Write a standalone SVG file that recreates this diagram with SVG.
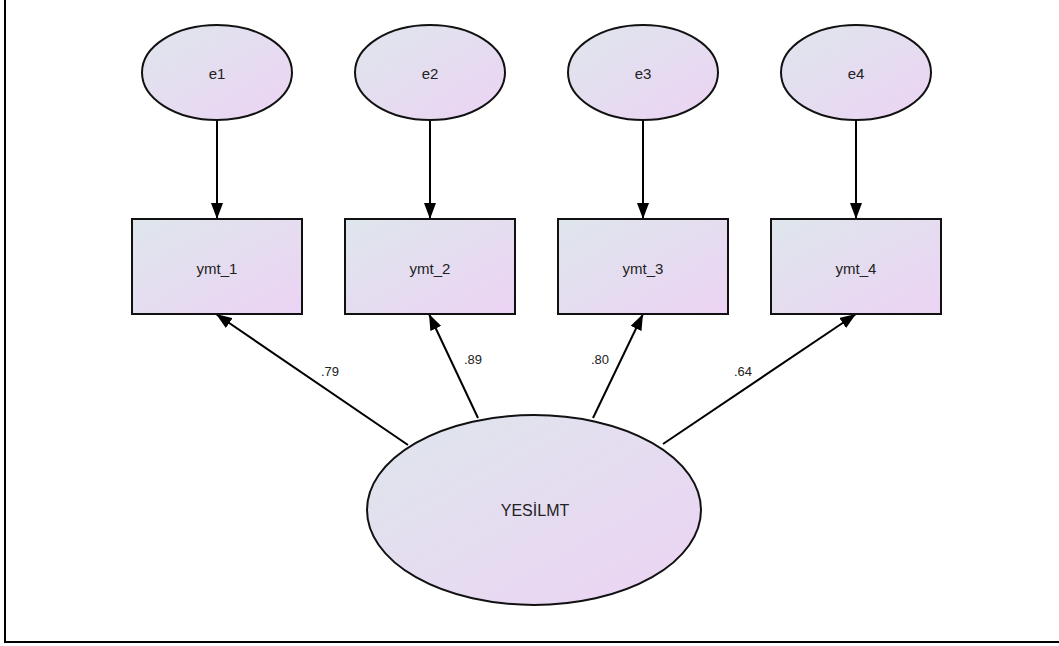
<svg xmlns="http://www.w3.org/2000/svg" width="1059" height="646" viewBox="0 0 1059 646">
<defs>
<linearGradient id="fill" x1="0" y1="0" x2="1" y2="1">
<stop offset="0" stop-color="#dee6ec"/>
<stop offset="1" stop-color="#ecd3f4"/>
</linearGradient>
<marker id="arr" viewBox="0 0 16 12" refX="16" refY="6" markerWidth="16" markerHeight="12" markerUnits="userSpaceOnUse" orient="auto">
<path d="M0,0 L16,6 L0,12 z" fill="#000"/>
</marker>
<style>
.shape{fill:url(#fill);stroke:#111;stroke-width:2}
.lbl{font-family:"Liberation Sans",Arial,sans-serif;font-size:15px;fill:#222;text-anchor:middle;dominant-baseline:central}
.w{font-family:"Liberation Sans",Arial,sans-serif;font-size:13px;fill:#222;text-anchor:middle;dominant-baseline:central}
.c{stroke:#000;stroke-width:2;fill:none;marker-end:url(#arr)}
</style>
</defs>
<rect width="1059" height="646" fill="#fff"/>
<path d="M5,0 V642 H1059" fill="none" stroke="#000" stroke-width="2"/>
<g id="connectors">
<line class="c" x1="217" y1="120" x2="217" y2="219"/>
<line class="c" x1="430" y1="120" x2="430" y2="219"/>
<line class="c" x1="643" y1="120" x2="643" y2="219"/>
<line class="c" x1="856" y1="120" x2="856" y2="219"/>
<line class="c" x1="408" y1="445" x2="216" y2="314"/>
<line class="c" x1="478" y1="418" x2="429" y2="314"/>
<line class="c" x1="593" y1="418" x2="643" y2="314"/>
<line class="c" x1="663" y1="444" x2="856" y2="314"/>
<text class="w" x="330" y="371">.79</text>
<text class="w" x="473" y="359">.89</text>
<text class="w" x="600" y="359">.80</text>
<text class="w" x="743" y="371">.64</text>
</g>
<g id="e1"><ellipse class="shape" cx="217" cy="72.5" rx="75" ry="47.5"/><text class="lbl" x="217" y="73">e1</text></g>
<g id="e2"><ellipse class="shape" cx="430" cy="72.5" rx="75" ry="47.5"/><text class="lbl" x="430" y="73">e2</text></g>
<g id="e3"><ellipse class="shape" cx="643" cy="72.5" rx="75" ry="47.5"/><text class="lbl" x="643" y="73">e3</text></g>
<g id="e4"><ellipse class="shape" cx="856" cy="72.5" rx="75" ry="47.5"/><text class="lbl" x="856" y="73">e4</text></g>
<g id="ymt_1"><rect class="shape" x="132" y="219" width="170" height="95"/><text class="lbl" x="217" y="268">ymt_1</text></g>
<g id="ymt_2"><rect class="shape" x="345" y="219" width="170" height="95"/><text class="lbl" x="430" y="268">ymt_2</text></g>
<g id="ymt_3"><rect class="shape" x="558" y="219" width="170" height="95"/><text class="lbl" x="643" y="268">ymt_3</text></g>
<g id="ymt_4"><rect class="shape" x="771" y="219" width="170" height="95"/><text class="lbl" x="856" y="268">ymt_4</text></g>
<g id="YESILMT"><ellipse class="shape" cx="534" cy="510" rx="167" ry="95"/><text class="lbl" x="535" y="510" style="font-size:16px">YESİLMT</text></g>
</svg>
